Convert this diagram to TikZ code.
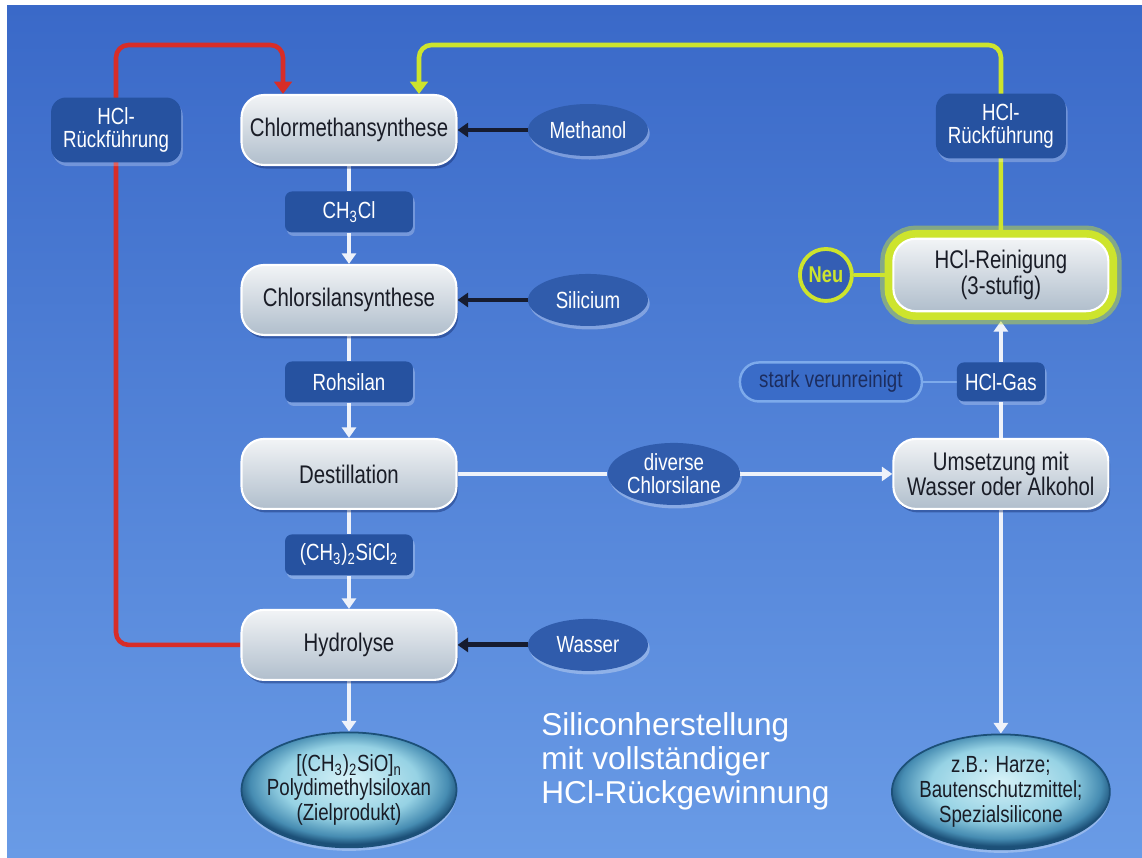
\documentclass[tikz,border=0pt]{standalone}
\usepackage{fontspec}
\setmainfont{Liberation Sans}
\newfontfamily\narrowfont{Liberation Sans}[FakeStretch=0.8]
\usepackage{xcolor}
\definecolor{colorBackTop}{RGB}{58,105,200}
\definecolor{colorBackBottom}{RGB}{105,155,230}
\definecolor{colorTag}{RGB}{38,82,160}
\definecolor{colorFeed}{RGB}{48,92,172}
\definecolor{colorBoxTop}{RGB}{242,244,246}
\definecolor{colorBoxBottom}{RGB}{176,190,204}
\definecolor{colorBoxText}{RGB}{25,28,38}
\definecolor{colorShadow}{RGB}{20,45,110}
\definecolor{colorRecycle}{RGB}{215,45,40}
\definecolor{colorNeu}{RGB}{205,228,45}
\definecolor{colorProdIn}{RGB}{215,242,248}
\definecolor{colorProdMid}{RGB}{150,210,228}
\definecolor{colorProdOut}{RGB}{70,140,178}
\definecolor{colorProdEdge}{RGB}{28,80,120}
\definecolor{colorFlow}{RGB}{238,242,250}
\definecolor{colorFeedLine}{RGB}{22,28,48}
\definecolor{colorStarkEdge}{RGB}{125,170,235}
\definecolor{colorStarkText}{RGB}{28,45,95}
\definecolor{colorStarkFill}{RGB}{58,108,200}
\usepackage{tikz}
\usetikzlibrary{arrows.meta, positioning, shapes.geometric, shadows}
\pgfdeclareradialshading{prodshade}{\pgfpoint{0bp}{5bp}}{color(0bp)=(colorProdIn); color(16bp)=(colorProdMid); color(23bp)=(colorProdOut); color(26bp)=(colorProdEdge); color(50bp)=(colorProdEdge)}
\pgfdeclarelayer{bgfill}
\pgfdeclarelayer{lines}
\pgfsetlayers{bgfill,lines,main}
\tikzset{
  procbox/.style={rectangle, rounded corners=0.45cm, draw=white, line width=1.2pt,
    top color=colorBoxTop, bottom color=colorBoxBottom, minimum width=4.3cm, minimum height=1.4cm,
    text=colorBoxText, align=center, font=\narrowfont\fontsize{14.5}{12}\selectfont,
    drop shadow={fill=colorShadow, opacity=.45, shadow xshift=1pt, shadow yshift=-2pt}},
  reinbox/.style={procbox, minimum height=1.45cm,
    preaction={draw=colorNeu, line width=15pt, opacity=.45},
    preaction={draw=colorNeu, line width=10pt}},
  tagbox/.style={rectangle, rounded corners=4pt, fill=colorTag, text=white,
    minimum width=2.56cm, minimum height=0.82cm, inner sep=2pt,
    font=\narrowfont\fontsize{13.3}{13}\selectfont,
    drop shadow={fill=white, opacity=.25, shadow xshift=1pt, shadow yshift=-2pt}},
  backbox/.style={tagbox, rounded corners=0.3cm, minimum width=2.6cm, minimum height=1.3cm, align=center},
  feedell/.style={ellipse, fill=colorFeed, text=white, inner sep=0pt,
    minimum width=2.4cm, minimum height=1.04cm, align=center,
    font=\narrowfont\fontsize{13.3}{13}\selectfont,
    drop shadow={fill=white, opacity=.3, shadow xshift=1pt, shadow yshift=-2pt}},
  prodell/.style={ellipse, draw=colorProdEdge, line width=1pt, inner sep=0pt,
    shade, shading=prodshade, minimum width=4.3cm, minimum height=2.3cm,
    drop shadow={fill=white, opacity=.3, shadow xshift=0pt, shadow yshift=-2pt}},
  prodtext/.style={text=colorBoxText, align=center, font=\narrowfont\fontsize{13.3}{14}\selectfont},
  starkbox/.style={rectangle, rounded corners=0.38cm, draw=colorStarkEdge, line width=1.4pt,
    fill=colorStarkFill, text=colorStarkText, minimum width=3.64cm, minimum height=0.78cm,
    font=\narrowfont\fontsize{13.3}{13}\selectfont},
  neucircle/.style={circle, draw=colorNeu, line width=2.2pt, fill=colorBackTop!90!black,
    text=colorNeu, minimum size=1.04cm, inner sep=0pt, font=\narrowfont\bfseries\fontsize{13}{13}\selectfont},
  titletext/.style={text=white, align=left, anchor=north west, inner sep=0pt,
    font=\fontsize{18}{19.3}\selectfont},
  flow/.style={draw=colorFlow, line width=2.2pt},
  feed/.style={draw=colorFeedLine, line width=2.8pt},
  recycle/.style={line width=2.6pt, rounded corners=0.25cm}
}
\begin{document}
\begin{tikzpicture}[x=0.02cm, y=-0.02cm, >={Triangle[width=8pt,length=6pt]}]
\useasboundingbox (0,0) rectangle (1142,858);
\node[procbox] (chlorm) at (349,130) {Chlormethansynthese};
\node[tagbox, below of=chlorm, node distance=1.64cm] (ch3cl) {CH\textsubscript{3}Cl};
\node[procbox, below of=ch3cl, node distance=1.76cm] (chlorsil) {Chlorsilansynthese};
\node[tagbox, below of=chlorsil, node distance=1.64cm] (rohsil) {Rohsilan};
\node[procbox, below of=rohsil, node distance=1.84cm] (destill) {Destillation};
\node[tagbox, below of=destill, node distance=1.62cm] (dmdcs) {(CH\textsubscript{3})\textsubscript{2}SiCl\textsubscript{2}};
\node[procbox, below of=dmdcs, node distance=1.8cm] (hydro) {Hydrolyse};
\node[prodell, below of=hydro, node distance=2.9cm,
  label={[prodtext]center:{[(CH\textsubscript{3})\textsubscript{2}SiO]\textsubscript{n}\\Polydimethylsiloxan\\(Zielprodukt)}}] (pdms) {};
\node[backbox, left of=chlorm, node distance=4.66cm] (rueckL) {HCl-\\Rückführung};
\node[feedell, right of=chlorm, node distance=4.78cm] (methanol) {Methanol};
\node[feedell, right of=chlorsil, node distance=4.78cm] (silicium) {Silicium};
\node[feedell, right of=hydro, node distance=4.78cm] (wasser) {Wasser};
\node[feedell, right of=destill, node distance=6.5cm, minimum width=2.56cm, minimum height=1.24cm] (diverse) {diverse\\Chlorsilane};
\node[procbox, right of=destill, node distance=13.04cm] (umsetz) {Umsetzung mit\\Wasser oder Alkohol};
\node[tagbox, above of=umsetz, node distance=1.84cm, minimum width=1.76cm, minimum height=0.78cm] (hclgas) {HCl-Gas};
\node[starkbox, left of=hclgas, node distance=3.4cm] (stark) {stark verunreinigt};
\node[reinbox, above of=hclgas, node distance=2.14cm] (reinig) {HCl-Reinigung\\(3-stufig)};
\node[neucircle, left of=reinig, node distance=3.5cm] (neu) {Neu};
\node[backbox, above of=reinig, node distance=2.98cm] (rueckR) {HCl-\\Rückführung};
\node[prodell, below of=umsetz, node distance=6.36cm, minimum width=4.36cm,
  label={[prodtext]center:{z.B.: Harze;\\Bautenschutzmittel;\\Spezialsilicone}}] (zb) {};
\node[titletext] (title) at (541,712) {Siliconherstellung\\mit vollständiger\\HCl-Rückgewinnung};
\coordinate (redtop) at (116,45);
\coordinate (redend) at ([xshift=-1.32cm]chlorm.north);
\coordinate (yeltop) at (1001,45);
\coordinate (yelend) at ([xshift=1.4cm]chlorm.north);
\begin{pgfonlayer}{bgfill}
\fill[white] (0,0) rectangle (1142,858);
\fill[top color=colorBackTop, bottom color=colorBackBottom] (7,6) rectangle (1142,857);
\end{pgfonlayer}
\begin{pgfonlayer}{lines}
\draw[recycle, draw=colorRecycle, ->, >={Triangle[width=10pt,length=7pt]}] (hydro.west) -| (redtop) -| (redend);
\draw[recycle, draw=colorNeu, ->, >={Triangle[width=10pt,length=7pt]}] (reinig.north) -- (yeltop) -| (yelend);
\draw[flow] (chlorm) -- (ch3cl);
\draw[flow, ->] (ch3cl) -- (chlorsil);
\draw[flow] (chlorsil) -- (rohsil);
\draw[flow, ->] (rohsil) -- (destill);
\draw[flow] (destill) -- (dmdcs);
\draw[flow, ->] (dmdcs) -- (hydro);
\draw[flow, ->] (hydro) -- (pdms);
\draw[flow] (destill) -- (diverse);
\draw[flow, ->] (diverse) -- (umsetz);
\draw[flow] (umsetz) -- (hclgas);
\draw[flow, ->, shorten >=5pt] (hclgas) -- (reinig);
\draw[flow, ->] (umsetz) -- (zb);
\draw[draw=colorStarkEdge, line width=1.4pt] (stark) -- (hclgas);
\draw[draw=colorNeu, line width=2.2pt] (neu) -- (reinig);
\draw[feed, ->] (methanol) -- (chlorm);
\draw[feed, ->] (silicium) -- (chlorsil);
\draw[feed, ->] (wasser) -- (hydro);
\end{pgfonlayer}
\end{tikzpicture}
\end{document}
